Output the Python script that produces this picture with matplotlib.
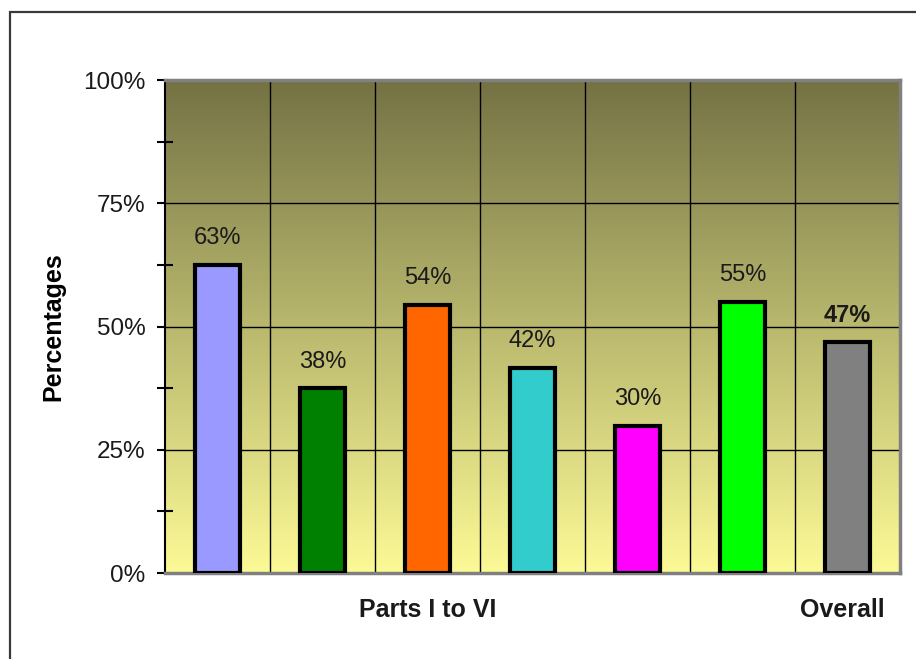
import matplotlib
matplotlib.use("Agg")
import matplotlib.pyplot as plt
import numpy as np
from matplotlib.colors import LinearSegmentedColormap
from matplotlib.patches import Rectangle

plt.rcParams['font.family'] = ['Liberation Sans', 'DejaVu Sans']

# data
parts = ['I', 'II', 'III', 'IV', 'V', 'VI', 'Overall']
values = [62.5, 37.5, 54.4, 41.6, 29.8, 55.0, 46.9]
value_labels = ['63%', '38%', '54%', '42%', '30%', '55%', '47%']
bar_colors = ['#9999ff', '#008000', '#ff6600', '#33cccc', '#ff00ff', '#00ff00', '#808080']
group_labels = ['Parts I to VI', 'Overall']
group_pos = [2.0, 5.95]
y_ticks = [0, 25, 50, 75, 100]

fig = plt.figure(figsize=(9.16, 6.59), dpi=100)
fig.patch.set_facecolor('white')

# outer frame (right / bottom edges lie outside the picture)
fig.patches.append(Rectangle((10 / 916, -0.1), 1.2, 1 - 12 / 659 + 0.1,
                             transform=fig.transFigure, fill=False,
                             edgecolor='#3a3a3a', linewidth=1.6))

ax = fig.add_axes([165 / 916, 86 / 659, 735 / 916, 493 / 659])
x = np.arange(len(parts))
ax.set_xlim(-0.5, len(parts) - 0.5)
ax.set_ylim(0, 100)

# gradient background
grad = LinearSegmentedColormap.from_list('olive', ['#fcfa96', '#b9b86e', '#747244'])
ax.imshow(np.linspace(0, 1, 256).reshape(-1, 1), cmap=grad, aspect='auto',
          extent=[-0.5, len(parts) - 0.5, 0, 100], origin='lower', zorder=0)

# grid
for xv in x[:-1] + 0.5:
    ax.axvline(xv, color='black', linewidth=1.0, zorder=1)
for yv in y_ticks[1:-1]:
    ax.axhline(yv, color='black', linewidth=1.0, zorder=1)

ax.bar(x, values, width=0.43, color=bar_colors, edgecolor='black',
       linewidth=3.0, zorder=3)

for i, (v, lab) in enumerate(zip(values, value_labels)):
    ax.text(x[i], v + 5.4, lab, ha='center', va='center', fontsize=17,
            color='#1a1a1a', fontweight='bold' if parts[i] == 'Overall' else 'normal')

# spines
for s in ['top', 'right', 'bottom']:
    ax.spines[s].set_color('#808080')
    ax.spines[s].set_linewidth(2.5)
ax.spines['left'].set_color('black')
ax.spines['left'].set_linewidth(1.5)

ax.set_yticks(y_ticks)
ax.set_yticklabels(['%d%%' % t for t in y_ticks], fontsize=17.5, color='#1a1a1a')
ax.set_yticks([12.5, 37.5, 62.5, 87.5], minor=True)
ax.tick_params(axis='y', which='major', direction='out', length=6, width=1.5, pad=8)
ax.tick_params(axis='y', which='minor', direction='inout', length=11, width=1.5)

ax.set_xticks(group_pos)
ax.set_xticklabels(group_labels, fontsize=18, fontweight='bold', color='#1a1a1a')
ax.tick_params(axis='x', length=0, pad=18)

ax.set_ylabel('Percentages', fontsize=18, fontweight='bold', labelpad=13)

fig.savefig('out.png', dpi=100, facecolor='white')
